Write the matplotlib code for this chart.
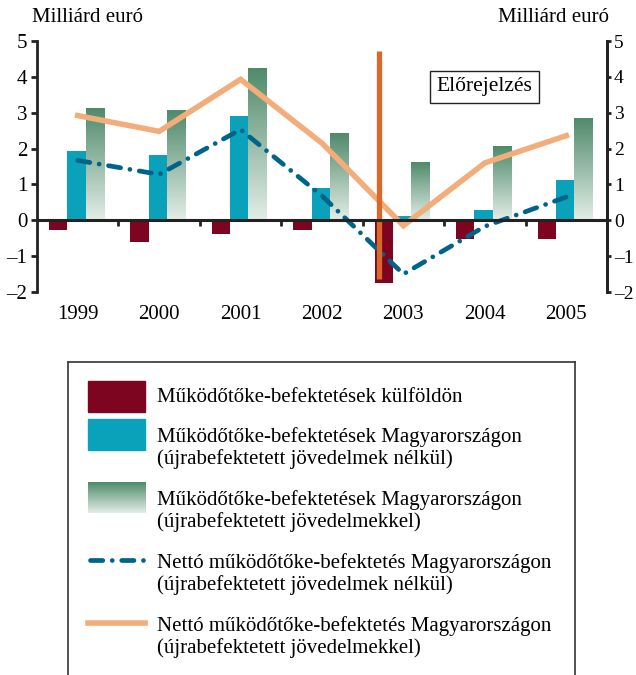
import numpy as np
import matplotlib
matplotlib.use('Agg')
import matplotlib.pyplot as plt
from matplotlib.colors import LinearSegmentedColormap
from matplotlib.patches import Rectangle

plt.rcParams['font.family'] = ['Liberation Serif', 'DejaVu Serif']

years = ['1999', '2000', '2001', '2002', '2003', '2004', '2005']
kulfold = [-0.28, -0.61, -0.39, -0.28, -1.75, -0.53, -0.53]
magyar_nelkul = [1.92, 1.81, 2.90, 0.89, 0.13, 0.28, 1.12]
magyar_vel = [3.12, 3.04, 4.23, 2.40, 1.59, 2.06, 2.84]
netto_nelkul = [1.67, 1.28, 2.53, 0.68, -1.50, -0.17, 0.65]
netto_vel = [2.92, 2.48, 3.93, 2.15, -0.15, 1.60, 2.36]
forecast_x = 4.2

labels = ['Működőtőke-befektetések külföldön',
          'Működőtőke-befektetések Magyarországon\n(újrabefektetett jövedelmek nélkül)',
          'Működőtőke-befektetések Magyarországon\n(újrabefektetett jövedelmekkel)',
          'Nettó működőtőke-befektetés Magyarországon\n(újrabefektetett jövedelmek nélkül)',
          'Nettó működőtőke-befektetés Magyarországon\n(újrabefektetett jövedelmekkel)']

red = '#7E0520'
cyan = '#0AA1BB'
green_dark = '#4F8A6B'
green_light = '#E3EEE7'
blue = '#00648A'
orange = '#F2AD7A'
vline_c = '#D9682A'
gcmap = LinearSegmentedColormap.from_list('g', [green_light, green_dark])

W, H = 636, 675
fig = plt.figure(figsize=(W / 100, H / 100), dpi=100)
ax = fig.add_axes([37 / W, 1 - 292 / H, 570 / W, 251 / H])

x = np.arange(len(years))
bw = 0.225
ax.bar(x + 0.147, kulfold, bw, align='edge', color=red, zorder=2)
ax.bar(x + 0.147 + bw, magyar_nelkul, bw, align='edge', color=cyan, zorder=2)
grad = np.linspace(0, 1, 256).reshape(-1, 1)
for xi, h in zip(x, magyar_vel):
    x0 = xi + 0.147 + 2 * bw
    ax.imshow(grad, extent=[x0, x0 + bw, 0, h], origin='lower', cmap=gcmap,
              aspect='auto', zorder=2)

ax.plot(x + 0.5, netto_vel, color=orange, lw=4, zorder=3, solid_joinstyle='miter')
ax.plot(x + 0.5, netto_nelkul, color=blue, lw=3.4, zorder=4,
        dashes=(2.6, 2.0, 0.01, 2.0), dash_capstyle='round')
ax.vlines(forecast_x, -1.63, 4.73, color=vline_c, lw=3.8, zorder=5)

ax.axhline(0, color='#222222', lw=2.2, zorder=6)
ax.vlines(x[1:], -0.15, 0, color='#222222', lw=2, zorder=6)

ax.text(5.5, 3.72, 'Előrejelzés', ha='center', va='center', fontsize=15.5,
        bbox=dict(boxstyle='square,pad=0.3', fc='white', ec='#222222', lw=1), zorder=7)

yt = list(range(-2, 6))
ytl = [str(v).replace('-', '\u2013') for v in yt]
ax.set_xlim(0, 7)
ax.set_ylim(-2, 5)
ax.set_yticks(yt, ytl)
ax.set_xticks(x + 0.5, years)
ax.tick_params(axis='x', length=0, pad=9, labelsize=15)
ax.tick_params(axis='y', direction='out', length=4, width=2, pad=3, labelsize=15,
               color='#222222')
for s in ['top', 'bottom']:
    ax.spines[s].set_visible(False)
for s in ['left', 'right']:
    ax.spines[s].set_linewidth(2)
    ax.spines[s].set_color('#222222')

# right-hand axis (same scale)
ax2 = ax.twinx()
ax2.set_ylim(-2, 5)
ax2.set_yticks(yt, ytl)
ax2.tick_params(axis='y', direction='out', length=3, width=2, pad=2, labelsize=14,
                color='#222222')
for s in ['top', 'bottom', 'left']:
    ax2.spines[s].set_visible(False)
ax2.spines['right'].set_linewidth(2)
ax2.spines['right'].set_color('#222222')

fig.text(32 / W, 1 - 18 / H, 'Milliárd euró', ha='left', va='center', fontsize=15)
fig.text(609 / W, 1 - 18 / H, 'Milliárd euró', ha='right', va='center', fontsize=15)

# legend box
lg = fig.add_axes([68 / W, 1 - 700 / H, 507 / W, 338 / H])
lg.set_xticks([])
lg.set_yticks([])
for s in lg.spines.values():
    s.set_linewidth(1.2)
    s.set_color('#333333')

lg.add_patch(Rectangle((88, 381), 57, 31, color=red))
lg.add_patch(Rectangle((88, 419), 57, 31, color=cyan))
lg.imshow(grad, extent=[88, 145, 513, 482], origin='lower', cmap=gcmap, aspect='auto')
lg.plot([90, 145], [560, 560], color=blue, lw=3.4, dashes=(2.6, 2.0, 0.01, 2.0),
        dash_capstyle='round')
lg.plot([88, 145], [623, 623], color=orange, lw=4)
lg.set_xlim(68, 575)
lg.set_ylim(700, 362)

tx = 157
lg.text(tx, 398, labels[0], va='center', fontsize=15)
for yc, lab in zip([448, 511, 574, 637], labels[1:]):
    lg.text(tx, yc, lab, va='center', fontsize=15, linespacing=1.1)

fig.savefig('out.png', dpi=100)
